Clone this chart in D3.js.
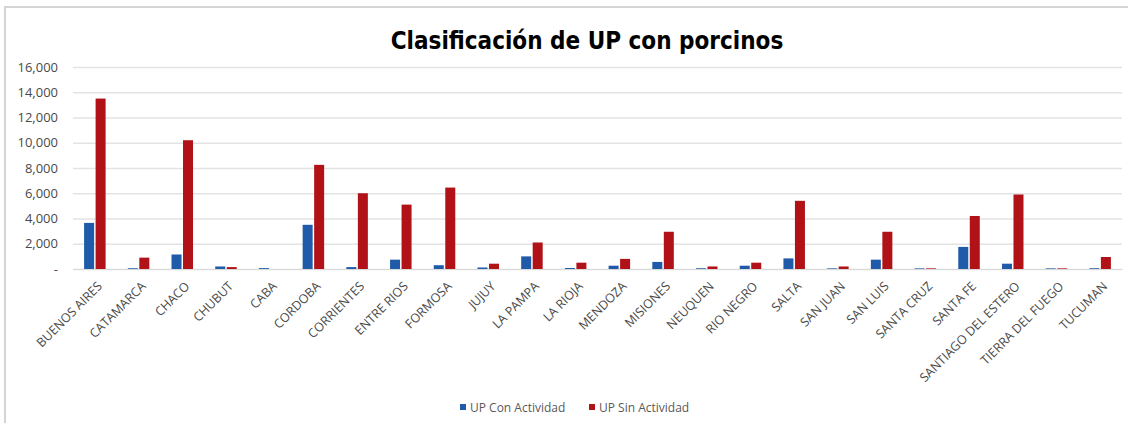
<!DOCTYPE html>
<html>
<head>
<meta charset="utf-8">
<script src="https://cdn.jsdelivr.net/npm/d3@7"></script>
<style>
  body { margin: 0; background: #fff; }
  svg text { font-family: "Open Sans", "Liberation Sans", sans-serif; }
</style>
</head>
<body>
<div id="chart"></div>
<script>
var width = 1128, height = 423;

var provincias = ["BUENOS AIRES", "CATAMARCA", "CHACO", "CHUBUT", "CABA", "CORDOBA",
  "CORRIENTES", "ENTRE RIOS", "FORMOSA", "JUJUY", "LA PAMPA", "LA RIOJA", "MENDOZA",
  "MISIONES", "NEUQUEN", "RIO NEGRO", "SALTA", "SAN JUAN", "SAN LUIS", "SANTA CRUZ",
  "SANTA FE", "SANTIAGO DEL ESTERO", "TIERRA DEL FUEGO", "TUCUMAN"];
var conActividad = [3650, 60, 1150, 200, 70, 3500, 150, 740, 300, 120, 1000, 80, 260,
  560, 60, 260, 840, 50, 740, 50, 1750, 420, 50, 60];
var sinActividad = [13500, 900, 10200, 150, 0, 8250, 6000, 5100, 6450, 420, 2100, 500, 800,
  2950, 200, 500, 5400, 200, 2950, 50, 4200, 5900, 50, 950];
var series = ["UP Con Actividad", "UP Sin Actividad"];
var colores = ["#1F5BA8", "#B01217"];
var yTicks = [0, 2000, 4000, 6000, 8000, 10000, 12000, 14000, 16000];

var margin = {left: 73, right: 6, top: 67, bottom: 154};

var svg = d3.select("#chart").append("svg").attr("width", width).attr("height", height);

// marco del grafico
svg.append("rect").attr("x", 5).attr("y", 7).attr("width", width).attr("height", height)
  .attr("fill", "none").attr("stroke", "#d4d4d4").attr("stroke-width", 2);

svg.append("text").attr("x", 587).attr("y", 49).attr("text-anchor", "middle")
  .style("font-family", "'DejaVu Sans Condensed', 'DejaVu Sans', sans-serif")
  .style("font-weight", "bold").style("font-size", "24px").attr("fill", "#000")
  .text("Clasificación de UP con porcinos");

var x = d3.scaleBand().domain(provincias).range([margin.left, width - margin.right]);
var y = d3.scaleLinear().domain([0, 16000]).range([height - margin.bottom, margin.top]);

var fmt = function(d) { return d === 0 ? "-" : d3.format(",")(d); };

var yAxis = svg.append("g").attr("transform", "translate(" + margin.left + ",0)")
  .call(d3.axisLeft(y).tickValues(yTicks).tickFormat(fmt).tickSize(-(width - margin.left - margin.right)).tickPadding(15));
yAxis.select(".domain").remove();
yAxis.selectAll("line").attr("stroke", "#e3e3e3").attr("stroke-width", 1.3);
yAxis.selectAll("text").attr("fill", "#4a4a4a").style("font-size", "13px");

var barW = 10, gap = 1.5;
var groups = svg.append("g").selectAll("g").data(provincias).enter().append("g");
[conActividad, sinActividad].forEach(function(vals, s) {
  groups.append("rect")
    .attr("x", function(d, i) { return x(d) + x.bandwidth() / 2 + (s === 0 ? -barW - gap / 2 : gap / 2); })
    .attr("y", function(d, i) { return y(vals[i]); })
    .attr("width", barW)
    .attr("height", function(d, i) { return y(0) - y(vals[i]); })
    .attr("fill", colores[s]);
});

var xAxis = svg.append("g").attr("transform", "translate(0," + y(0) + ")")
  .call(d3.axisBottom(x).tickSize(0).tickPadding(0));
xAxis.select(".domain").attr("stroke", "#d9d9d9");
xAxis.selectAll("text")
  .attr("text-anchor", "end").attr("fill", "#4a4a4a").style("font-size", "12.5px")
  .attr("dy", 0)
  .attr("transform", function() { return "translate(8,18) rotate(-45)"; });

var legend = svg.append("g");
var lx = [460, 589];
series.forEach(function(s, i) {
  legend.append("rect").attr("x", lx[i]).attr("y", 404).attr("width", 6).attr("height", 6).attr("fill", colores[i]);
  legend.append("text").attr("x", lx[i] + 10).attr("y", 411.5).attr("fill", "#595959")
    .style("font-size", "12px").text(s);
});
</script>
</body>
</html>
